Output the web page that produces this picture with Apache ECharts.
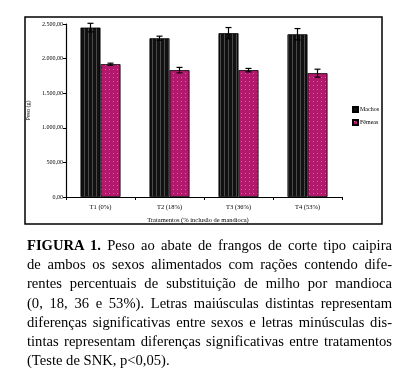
<!DOCTYPE html>
<html>
<head>
<meta charset="utf-8">
<script src="https://cdn.jsdelivr.net/npm/echarts@6/dist/echarts.min.js"></script>
<style>
    body { margin: 0; background: #fff; }
    #wrap { position: relative; width: 400px; height: 377px; }
    #chart { position: absolute; left: 0; top: 0; width: 400px; height: 377px; }
    #caption {
        position: absolute; left: 27px; top: 236px; width: 365px;
        font-family: "Liberation Serif", "DejaVu Serif", serif;
        font-size: 14.6px; line-height: 19.2px; color: #000;
    }
    #caption div { text-align: justify; text-align-last: justify; white-space: nowrap; }
    #caption div.last { text-align-last: left; }
</style>
</head>
<body>
<div id="wrap">
    <div id="chart"></div>
    <div id="caption">
        <div><b>FIGURA 1.</b> Peso ao abate de frangos de corte tipo caipira</div>
        <div>de ambos os sexos alimentados com rações contendo dife-</div>
        <div>rentes percentuais de substituição de milho por mandioca</div>
        <div>(0, 18, 36 e 53%). Letras maiúsculas distintas representam</div>
        <div>diferenças significativas entre sexos e letras minúsculas dis-</div>
        <div>tintas representam diferenças significativas entre tratamentos</div>
        <div class="last">(Teste de SNK, p&lt;0,05).</div>
    </div>
</div>
<script>
var categories = ["T1 (0%)", "T2 (18%)", "T3 (36%)", "T4 (53%)"];
var machos = [2448, 2294, 2367, 2352];
var machosErr = [62, 30, 82, 82];
var femeas = [1919, 1833, 1833, 1789];
var femeasErr = [15, 40, 25, 58];
var yTicks = [0, 500, 1000, 1500, 2000, 2500];

// small canvas patterns for the bar fills
function makePattern(w, h, bg, draw) {
    var c = document.createElement("canvas");
    c.width = w; c.height = h;
    var ctx = c.getContext("2d");
    ctx.fillStyle = bg;
    ctx.fillRect(0, 0, w, h);
    draw(ctx);
    return { image: c, repeat: "repeat" };
}
var stripes = makePattern(4, 4, "#111111", function (ctx) {
    ctx.fillStyle = "#4a4a4a";
    ctx.fillRect(0, 0, 1, 4);
});
var dots = makePattern(4, 4, "#b2186c", function (ctx) {
    ctx.fillStyle = "#e0609f";
    ctx.fillRect(1, 1, 1, 1);
});

function fmt(v) {
    var s = Math.round(v).toString();
    if (s.length > 3) s = s.slice(0, s.length - 3) + "." + s.slice(s.length - 3);
    return s + ",00";
}

function errorSeries(values, errs, side) {
    return {
        type: "custom",
        name: "err" + side,
        z: 5,
        data: values.map(function (v, i) { return [i, v, errs[i]]; }),
        renderItem: function (params, api) {
            var i = api.value(0), v = api.value(1), e = api.value(2);
            var bw = api.size([1, 0])[0] * 0.29;
            var off = side * bw / 2;
            var hi = api.coord([i, v + e]);
            var lo = api.coord([i, v - e]);
            var x = hi[0] + off;
            var cap = 3;
            var st = { stroke: "#000", lineWidth: 1.2 };
            return {
                type: "group",
                children: [
                    { type: "line", shape: { x1: x, y1: hi[1], x2: x, y2: lo[1] }, style: st },
                    { type: "line", shape: { x1: x - cap, y1: hi[1], x2: x + cap, y2: hi[1] }, style: st },
                    { type: "line", shape: { x1: x - cap, y1: lo[1], x2: x + cap, y2: lo[1] }, style: st }
                ]
            };
        }
    };
}

var serif = "Liberation Serif";
var chart = echarts.init(document.getElementById("chart"));
chart.setOption({
    animation: false,
    backgroundColor: "#fff",
    grid: { left: 66, right: 58, top: 24, bottom: 180 },
    graphic: [{
        type: "rect",
        shape: { x: 25, y: 17, width: 357, height: 207 },
        style: { fill: null, stroke: "#000", lineWidth: 1.5 },
        z: -1
    }],
    legend: {
        data: ["Machos", "Fêmeas"],
        orient: "vertical",
        left: 347, top: 101,
        icon: "rect",
        itemWidth: 5, itemHeight: 5, itemGap: 6,
        textStyle: { fontFamily: serif, fontSize: 6, color: "#000", padding: [0, 0, 0, -3] }
    },
    xAxis: {
        type: "category",
        data: categories,
        name: "Tratamentos (% inclusão de mandioca)",
        nameLocation: "middle",
        nameGap: 20,
        nameTextStyle: { fontFamily: serif, fontSize: 6.5, color: "#000", padding: [0, 12, 0, 0] },
        axisLine: { lineStyle: { color: "#000", width: 1.2 } },
        axisTick: { show: true, length: 3, lineStyle: { color: "#000" } },
        axisLabel: { fontFamily: serif, fontSize: 6.5, color: "#000", margin: 7 }
    },
    yAxis: {
        type: "value",
        min: yTicks[0], max: yTicks[yTicks.length - 1], interval: 500,
        name: "Peso (g)",
        nameLocation: "middle",
        nameGap: 31,
        nameTextStyle: { fontFamily: serif, fontSize: 6, color: "#000" },
        axisLine: { show: true, lineStyle: { color: "#000", width: 1.2 } },
        axisTick: { show: true, length: 3, lineStyle: { color: "#000" } },
        splitLine: { show: false },
        axisLabel: { fontFamily: serif, fontSize: 6, color: "#000", margin: 3, formatter: fmt }
    },
    series: [
        {
            type: "bar", name: "Machos", data: machos,
            barGap: "0%", barCategoryGap: "42%",
            itemStyle: { color: stripes, borderColor: "#000", borderWidth: 0.8 }
        },
        {
            type: "bar", name: "Fêmeas", data: femeas,
            itemStyle: { color: dots, borderColor: "#000", borderWidth: 0.8 }
        },
        errorSeries(machos, machosErr, -1),
        errorSeries(femeas, femeasErr, 1)
    ]
});
</script>
</body>
</html>
